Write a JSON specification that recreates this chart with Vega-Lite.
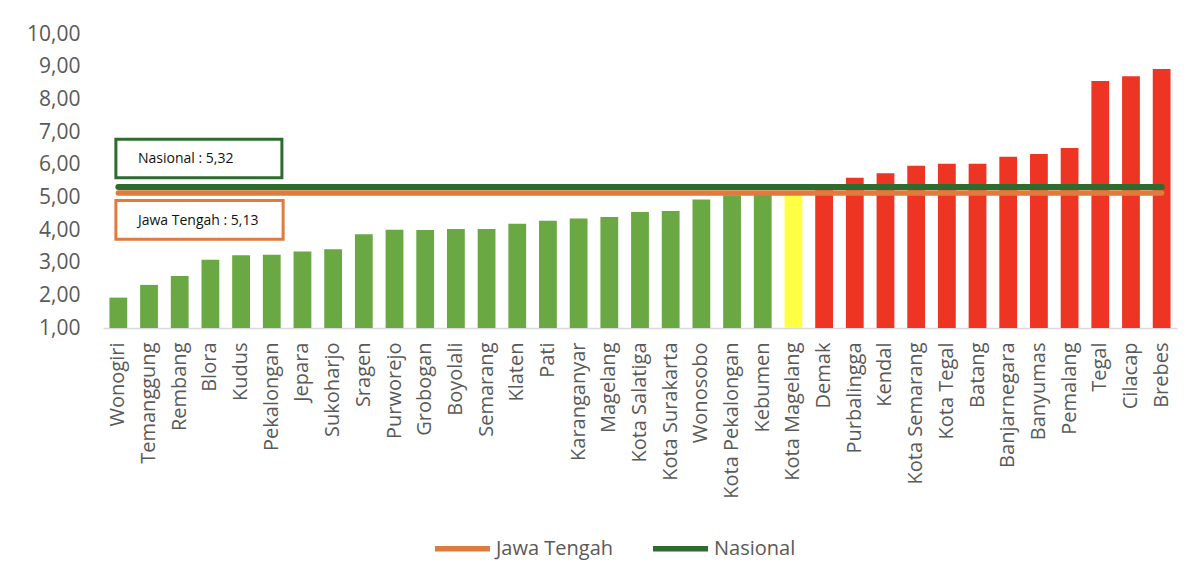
{
  "$schema": "https://vega.github.io/schema/vega-lite/v6.json",
  "autosize": {"type": "none"},
  "width": 1074,
  "height": 294,
  "padding": {"left": 103, "top": 34, "right": 27, "bottom": 254},
  "background": "white",
  "config": {"view": {"stroke": null}, "font": "Open Sans", "axis": {"labelOverlap": false}},
  "data": {"values": [
    {"wilayah": "Wonogiri", "nilai": 1.93, "status": "bawah"},
    {"wilayah": "Temanggung", "nilai": 2.32, "status": "bawah"},
    {"wilayah": "Rembang", "nilai": 2.59, "status": "bawah"},
    {"wilayah": "Blora", "nilai": 3.09, "status": "bawah"},
    {"wilayah": "Kudus", "nilai": 3.23, "status": "bawah"},
    {"wilayah": "Pekalongan", "nilai": 3.24, "status": "bawah"},
    {"wilayah": "Jepara", "nilai": 3.34, "status": "bawah"},
    {"wilayah": "Sukoharjo", "nilai": 3.41, "status": "bawah"},
    {"wilayah": "Sragen", "nilai": 3.87, "status": "bawah"},
    {"wilayah": "Purworejo", "nilai": 4.01, "status": "bawah"},
    {"wilayah": "Grobogan", "nilai": 4.0, "status": "bawah"},
    {"wilayah": "Boyolali", "nilai": 4.03, "status": "bawah"},
    {"wilayah": "Semarang", "nilai": 4.03, "status": "bawah"},
    {"wilayah": "Klaten", "nilai": 4.19, "status": "bawah"},
    {"wilayah": "Pati", "nilai": 4.28, "status": "bawah"},
    {"wilayah": "Karanganyar", "nilai": 4.35, "status": "bawah"},
    {"wilayah": "Magelang", "nilai": 4.4, "status": "bawah"},
    {"wilayah": "Kota Salatiga", "nilai": 4.55, "status": "bawah"},
    {"wilayah": "Kota Surakarta", "nilai": 4.58, "status": "bawah"},
    {"wilayah": "Wonosobo", "nilai": 4.93, "status": "bawah"},
    {"wilayah": "Kota Pekalongan", "nilai": 5.06, "status": "bawah"},
    {"wilayah": "Kebumen", "nilai": 5.09, "status": "bawah"},
    {"wilayah": "Kota Magelang", "nilai": 5.13, "status": "sama"},
    {"wilayah": "Demak", "nilai": 5.3, "status": "atas"},
    {"wilayah": "Purbalingga", "nilai": 5.6, "status": "atas"},
    {"wilayah": "Kendal", "nilai": 5.74, "status": "atas"},
    {"wilayah": "Kota Semarang", "nilai": 5.97, "status": "atas"},
    {"wilayah": "Kota Tegal", "nilai": 6.03, "status": "atas"},
    {"wilayah": "Batang", "nilai": 6.03, "status": "atas"},
    {"wilayah": "Banjarnegara", "nilai": 6.24, "status": "atas"},
    {"wilayah": "Banyumas", "nilai": 6.33, "status": "atas"},
    {"wilayah": "Pemalang", "nilai": 6.51, "status": "atas"},
    {"wilayah": "Tegal", "nilai": 8.56, "status": "atas"},
    {"wilayah": "Cilacap", "nilai": 8.71, "status": "atas"},
    {"wilayah": "Brebes", "nilai": 8.93, "status": "atas"}
  ]},
  "resolve": {"scale": {"x": "independent"}, "axis": {"x": "independent"}},
  "layer": [
    {
      "mark": {"type": "bar"},
      "encoding": {
        "x": {"field": "wilayah", "type": "nominal", "sort": null,
          "scale": {"paddingInner": 0.42, "paddingOuter": 0.21},
          "axis": {"title": null, "labelAngle": -90, "labelFontSize": 20, "labelColor": "#595959",
            "ticks": false, "domainColor": "#d9d9d9", "domainWidth": 1.5, "labelPadding": 14}},
        "y": {"field": "nilai", "type": "quantitative",
          "scale": {"domain": [1, 10], "zero": false, "nice": false},
          "axis": {"title": null, "tickCount": 10, "values": [1,2,3,4,5,6,7,8,9,10], "grid": false, "domain": false, "ticks": false,
            "labelOverlap": false, "labelBound": false, "labelSeparation": -20,
            "labelFontSize": 21, "labelColor": "#595959", "labelPadding": 23,
            "labelExpr": "replace(format(datum.value, '.2f'), '.', ',')"}},
        "y2": {"datum": 1},
        "fill": {"field": "status", "type": "nominal", "legend": null,
          "scale": {"domain": ["bawah", "sama", "atas"], "range": ["#6AA843", "#FFFF45", "#EE3423"]}}
      }
    },
    {
      "mark": {"type": "line", "strokeWidth": 5.5, "strokeCap": "round"},
      "encoding": {
        "x": {"field": "wilayah", "type": "nominal", "sort": null, "axis": null},
        "y": {"datum": 5.13, "type": "quantitative", "scale": {"domain": [1, 10], "zero": false, "nice": false}},
        "color": {"datum": "Jawa Tengah",
          "scale": {"domain": ["Jawa Tengah", "Nasional"], "range": ["#DF7B3E", "#2E6B2F"]},
          "legend": {"title": null, "orient": "none", "direction": "horizontal", "legendX": 329, "legendY": 484,
            "symbolType": "stroke", "symbolSize": 3025, "symbolStrokeWidth": 5.5,
            "labelFontSize": 20, "labelColor": "#595959", "labelOffset": 3, "columnPadding": 28}}
      }
    },
    {
      "mark": {"type": "line", "strokeWidth": 6, "strokeCap": "round"},
      "encoding": {
        "x": {"field": "wilayah", "type": "nominal", "sort": null, "axis": null},
        "y": {"datum": 5.32, "type": "quantitative"},
        "color": {"datum": "Nasional"}
      }
    },
    {
      "data": {"values": [{"label": "Nasional : 5,32"}]},
      "layer": [
        {
          "mark": {"type": "rect", "fill": "white", "stroke": "#2E6B2F", "strokeWidth": 3},
          "encoding": {
            "x": {"datum": 0.42, "type": "quantitative", "scale": {"domain": [0, 35], "nice": false, "zero": true}, "axis": null},
            "x2": {"datum": 5.83},
            "y": {"datum": 6.78, "type": "quantitative"},
            "y2": {"datum": 5.6}
          }
        },
        {
          "mark": {"type": "text", "align": "left", "baseline": "middle", "fontSize": 14, "fontWeight": 500, "color": "#111111"},
          "encoding": {
            "x": {"datum": 1.14, "type": "quantitative", "scale": {"domain": [0, 35], "nice": false, "zero": true}, "axis": null},
            "y": {"datum": 6.17, "type": "quantitative"},
            "text": {"field": "label"}
          }
        }
      ]
    },
    {
      "data": {"values": [{"label": "Jawa Tengah : 5,13"}]},
      "layer": [
        {
          "mark": {"type": "rect", "fill": "white", "stroke": "#DF7B3E", "strokeWidth": 3},
          "encoding": {
            "x": {"datum": 0.42, "type": "quantitative", "scale": {"domain": [0, 35], "nice": false, "zero": true}, "axis": null},
            "x2": {"datum": 5.87},
            "y": {"datum": 4.9, "type": "quantitative"},
            "y2": {"datum": 3.72}
          }
        },
        {
          "mark": {"type": "text", "align": "left", "baseline": "middle", "fontSize": 14, "fontWeight": 500, "color": "#111111"},
          "encoding": {
            "x": {"datum": 1.14, "type": "quantitative", "scale": {"domain": [0, 35], "nice": false, "zero": true}, "axis": null},
            "y": {"datum": 4.28, "type": "quantitative"},
            "text": {"field": "label"}
          }
        }
      ]
    }
  ]
}
